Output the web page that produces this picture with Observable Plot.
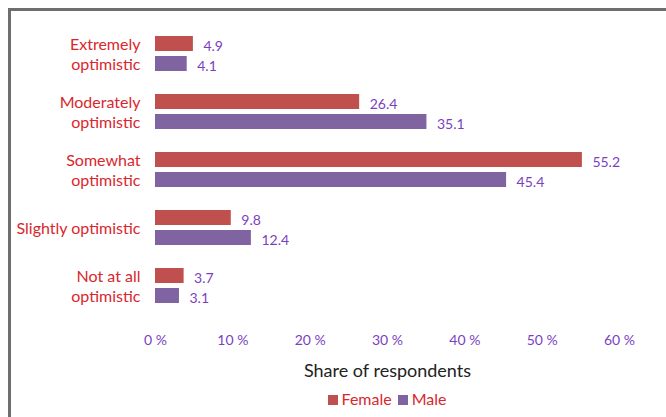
<!DOCTYPE html>
<html>
<head>
<meta charset="utf-8">
<script src="https://cdn.jsdelivr.net/npm/d3@7"></script>
<script src="https://cdn.jsdelivr.net/npm/@observablehq/plot@0.6"></script>
<style>
  html, body { margin: 0; padding: 0; background: #fff; overflow: hidden; }
  #wrap { position: relative; width: 666px; height: 417px; overflow: hidden; font-family: Lato, "Open Sans", sans-serif; }
  .rule { position: absolute; background: #6e6e6e; pointer-events: none; }
  #hrule { left: 8px; top: 8px; width: 658px; height: 3px; }
  #vrule { left: 8px; top: 8px; width: 3px; height: 409px; }
  #chart { position: absolute; left: 0; top: 0; }
  #legend { position: absolute; left: 155px; width: 464px; top: 388px; height: 22px; line-height: 22px; text-align: center; font-size: 16px; color: #d9272e; }
  #legend .sw { display: inline-block; width: 10px; height: 10px; margin-right: 4px; vertical-align: 0px; }
  #legend .item { margin: 0 3px; }
</style>
</head>
<body>
<div id="wrap">
  <div id="chart"></div>
  <div id="legend"></div>
  <div id="hrule" class="rule"></div>
  <div id="vrule" class="rule"></div>
</div>
<script>
const categories = ["Extremely optimistic", "Moderately optimistic", "Somewhat optimistic", "Slightly optimistic", "Not at all optimistic"];
const categoryLabels = ["Extremely\noptimistic", "Moderately\noptimistic", "Somewhat\noptimistic", "Slightly optimistic", "Not at all\noptimistic"];
const genders = ["Female", "Male"];
const female = [4.9, 26.4, 55.2, 9.8, 3.7];
const male = [4.1, 35.1, 45.4, 12.4, 3.1];
const xTicks = [0, 10, 20, 30, 40, 50, 60];
const genderColors = ["#c0504d", "#8064a2"];

const data = [];
categories.forEach((c, i) => {
  data.push({category: c, gender: "Female", value: female[i]});
  data.push({category: c, gender: "Male", value: male[i]});
});
const labelOf = new Map(categories.map((c, i) => [c, categoryLabels[i]]));

const purple = "#7b3fbf";
const red = "#d9272e";

const chart = Plot.plot({
  width: 666,
  height: 388,
  marginTop: 18,
  marginBottom: 67,
  marginLeft: 155,
  marginRight: 47,
  style: {fontFamily: "Lato, 'Open Sans', sans-serif", background: "transparent"},
  x: {domain: [0, 60]},
  fy: {domain: categories, paddingInner: 0.224, paddingOuter: 0.224},
  y: {domain: genders, padding: 0.25, axis: null},
  color: {domain: genders, range: genderColors},
  marks: [
    Plot.barX(data, {fy: "category", y: "gender", x: "value", fill: "gender"}),
    Plot.text(data, {fy: "category", y: "gender", x: "value", text: d => d.value.toFixed(1),
      textAnchor: "start", dx: 10, dy: 3, fill: purple, fontSize: 14}),
    Plot.axisFy({anchor: "left", tickSize: 0, tickPadding: 15, tickFormat: d => labelOf.get(d),
      fill: red, fontSize: 16, lineHeight: 1.25, label: null}),
    Plot.axisX({ticks: xTicks, tickSize: 0, tickPadding: 27, tickFormat: d => d + " %",
      fill: purple, fontSize: 14, label: "Share of respondents", labelArrow: "none", labelAnchor: "center", labelOffset: 68})
  ]
});
chart.querySelectorAll('[aria-label="x-axis label"] text').forEach(t => {
  t.setAttribute("fill", "#222");
  t.style.fontSize = "18px";
  t.textContent = t.textContent.replace(/\s*[→←]\s*/g, "").trim();
});
document.getElementById("chart").appendChild(chart);

const legend = document.getElementById("legend");
genders.forEach((g, i) => {
  const span = document.createElement("span");
  span.className = "item";
  const sw = document.createElement("span");
  sw.className = "sw";
  sw.style.background = genderColors[i];
  span.appendChild(sw);
  span.appendChild(document.createTextNode(g));
  legend.appendChild(span);
});
</script>
</body>
</html>
